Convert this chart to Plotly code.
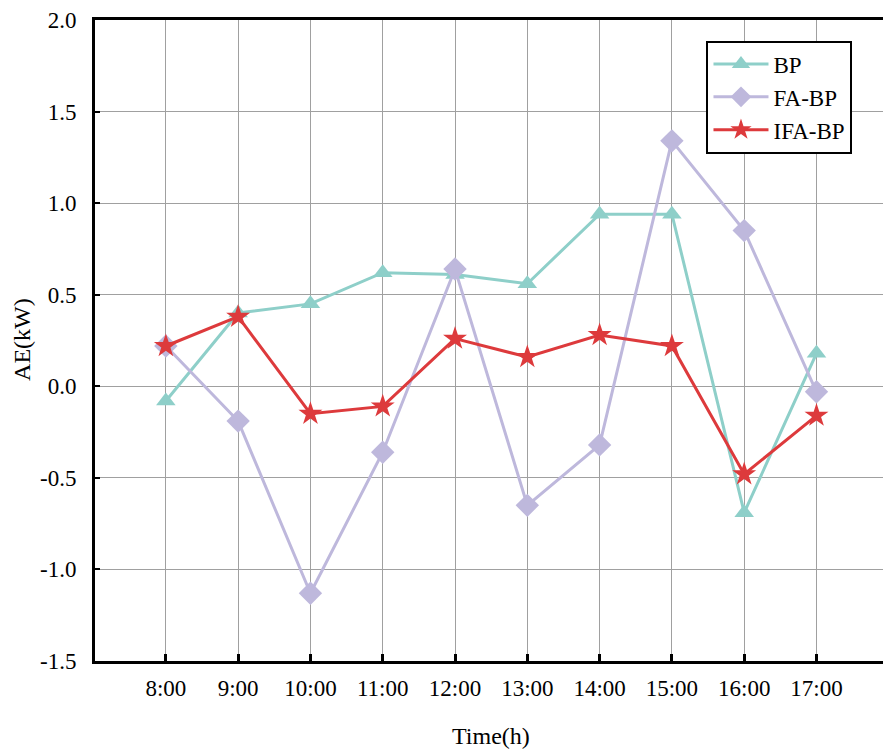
import plotly.graph_objects as go

times = ["8:00", "9:00", "10:00", "11:00", "12:00", "13:00", "14:00", "15:00", "16:00", "17:00"]
bp = [-0.08, 0.40, 0.45, 0.62, 0.61, 0.56, 0.94, 0.94, -0.69, 0.18]
fa_bp = [0.22, -0.19, -1.13, -0.36, 0.64, -0.65, -0.32, 1.34, 0.85, -0.03]
ifa_bp = [0.22, 0.38, -0.15, -0.11, 0.26, 0.16, 0.28, 0.22, -0.48, -0.16]
y_ticks = [-1.5, -1.0, -0.5, 0.0, 0.5, 1.0, 1.5, 2.0]
y_tick_labels = ["-1.5", "-1.0", "-0.5", "0.0", "0.5", "1.0", "1.5", "2.0"]

FONT = "Liberation Serif, Times New Roman, serif"

fig = go.Figure()
fig.add_trace(go.Scatter(x=times, y=bp, name="BP", mode="lines+markers",
                         line=dict(color="#8ECFC9", width=3),
                         marker=dict(symbol="triangle-up", size=17, color="#8ECFC9")))
fig.add_trace(go.Scatter(x=times, y=fa_bp, name="FA-BP", mode="lines+markers",
                         line=dict(color="#BEB8DC", width=3),
                         marker=dict(symbol="diamond", size=18, color="#BEB8DC")))
fig.add_trace(go.Scatter(x=times, y=ifa_bp, name="IFA-BP", mode="lines+markers",
                         line=dict(color="#DD3A3C", width=3),
                         marker=dict(symbol="star", size=18, color="#DD3A3C")))

fig.update_layout(
    width=883, height=750,
    margin=dict(l=95, r=0, t=20, b=89),
    plot_bgcolor="white", paper_bgcolor="white",
    font=dict(family=FONT, size=23, color="black"),
    showlegend=True,
    legend=dict(x=0.776, y=0.968, xanchor="left", yanchor="top",
                bordercolor="black", borderwidth=2, bgcolor="white",
                font=dict(family=FONT, size=23), tracegroupgap=0,
                itemwidth=55),
    xaxis=dict(
        type="category", range=[-0.98, 9.92], automargin=False,
        showline=True, linecolor="black", linewidth=3, mirror=True,
        ticks="inside", ticklen=7, tickwidth=3, tickcolor="black",
        showgrid=True, gridcolor="#A0A0A0", gridwidth=1,
        ticklabelstandoff=4,
        zeroline=False,
    ),
    yaxis=dict(
        range=[-1.5, 2.0], automargin=False,
        tickvals=y_ticks, ticktext=y_tick_labels,
        showline=True, linecolor="black", linewidth=3, mirror=False,
        ticks="inside", ticklen=5, tickwidth=2, tickcolor="black",
        showgrid=True, gridcolor="#A0A0A0", gridwidth=1,
        ticklabelstandoff=11,
        zeroline=False,
    ),
    annotations=[
        dict(text="Time(h)", xref="paper", yref="paper", x=(491 - 95) / 788, y=-0.117,
             xanchor="center", yanchor="middle", showarrow=False,
             font=dict(family=FONT, size=24)),
        dict(text="AE(kW)", xref="paper", yref="paper", x=-0.0926, y=0.501,
             xanchor="center", yanchor="middle", textangle=-90, showarrow=False,
             font=dict(family=FONT, size=24)),
    ],
)

fig.write_html("out.html",
               config={"displayModeBar": False},
               post_script="document.body.style.margin='0';document.body.style.overflow='hidden';")
